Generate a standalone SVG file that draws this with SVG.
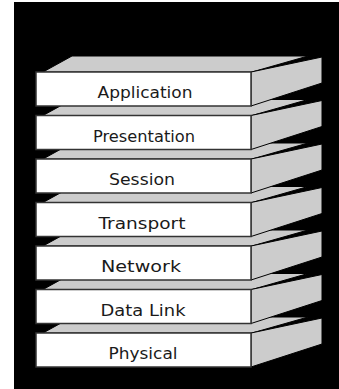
<svg xmlns="http://www.w3.org/2000/svg" width="339" height="389" viewBox="0 0 339 389">
<style>
.front{fill:#ffffff;stroke:#333333;stroke-width:1.5}
.face{fill:#cccccc;stroke:#000000;stroke-width:1}
.lbl{font-family:"DejaVu Sans","Liberation Sans",Arial,sans-serif;font-size:16.5px;fill:#1a1a1a;text-anchor:middle}
</style>
<defs>
<g id="box">
<polygon class="face" points="43,0 72,-16 308,-16 252,0"/>
<polygon class="face" points="251,0 322,-15 322,11 251,34"/>
<rect class="front" x="36" y="0" width="215" height="34"/>
</g>
</defs>
<rect x="0" y="0" width="339" height="389" fill="#ffffff"/>
<rect x="14" y="2" width="325" height="387" fill="#000000"/>
<g id="physical" transform="translate(0,333)"><use href="#box"/><text class="lbl" x="143" y="26" textLength="69" lengthAdjust="spacingAndGlyphs">Physical</text></g>
<g id="datalink" transform="translate(0,289.5)"><use href="#box"/><text class="lbl" x="143" y="26" textLength="85" lengthAdjust="spacingAndGlyphs">Data Link</text></g>
<g id="network" transform="translate(0,246)"><use href="#box"/><text class="lbl" x="141" y="26" textLength="80" lengthAdjust="spacingAndGlyphs">Network</text></g>
<g id="transport" transform="translate(0,202.5)"><use href="#box"/><text class="lbl" x="142" y="26" textLength="87" lengthAdjust="spacingAndGlyphs">Transport</text></g>
<g id="session" transform="translate(0,159)"><use href="#box"/><text class="lbl" x="142" y="26" textLength="66" lengthAdjust="spacingAndGlyphs">Session</text></g>
<g id="presentation" transform="translate(0,115.5)"><use href="#box"/><text class="lbl" x="144" y="26" textLength="102" lengthAdjust="spacingAndGlyphs">Presentation</text></g>
<g id="application" transform="translate(0,72)"><use href="#box"/><text class="lbl" x="145" y="26" textLength="95" lengthAdjust="spacingAndGlyphs">Application</text></g>
</svg>
